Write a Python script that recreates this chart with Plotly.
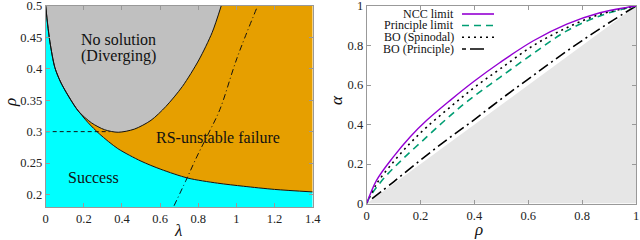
import plotly.graph_objects as go

# ---------------- Left panel data ----------------
lambda_min, lambda_max = 0.0, 1.4
rho_min, rho_max = 0.18, 0.5

success_lambda = [0, 0.01, 0.022, 0.048, 0.078, 0.109, 0.161, 0.22, 0.283, 0.378, 0.5, 0.604, 0.746, 0.9, 1.038, 1.2, 1.4]
success_rho = [0.5, 0.47, 0.443, 0.402, 0.379, 0.362, 0.337, 0.315, 0.296, 0.273, 0.253, 0.24, 0.226, 0.218, 0.213, 0.208, 0.204]

nosol_lambda = [0, 0.022, 0.048, 0.078, 0.118, 0.17, 0.24, 0.309, 0.38, 0.465, 0.552, 0.63, 0.717, 0.803, 0.873, 0.92]
nosol_rho = [0.5, 0.443, 0.402, 0.379, 0.357, 0.333, 0.314, 0.303, 0.299, 0.304, 0.318, 0.34, 0.372, 0.414, 0.458, 0.5]

dashdot_lambda = [0.673, 0.735, 0.794, 0.855, 0.913, 1.003, 1.111]
dashdot_rho = [0.182, 0.222, 0.261, 0.298, 0.335, 0.417, 0.5]

hline_lambda = [0, 0.335]
hline_rho = [0.3, 0.3]

left_xticks = [0, 0.2, 0.4, 0.6, 0.8, 1.0, 1.2, 1.4]
left_xticktext = ["0", "0.2", "0.4", "0.6", "0.8", "1", "1.2", "1.4"]
left_yticks = [0.2, 0.25, 0.3, 0.35, 0.4, 0.45, 0.5]
left_yticktext = ["0.2", "0.25", "0.3", "0.35", "0.4", "0.45", "0.5"]

# ---------------- Right panel data ----------------
ncc_rho = [0, 0.037, 0.099, 0.161, 0.223, 0.309, 0.4, 0.495, 0.619, 0.743, 0.866, 0.966, 1]
ncc_alpha = [0, 0.118, 0.236, 0.337, 0.421, 0.521, 0.62, 0.714, 0.824, 0.908, 0.966, 0.993, 1]

prin_rho = [0, 0.012, 0.062, 0.136, 0.223, 0.297, 0.377, 0.495, 0.619, 0.743, 0.866, 0.966, 1]
prin_alpha = [0, 0.034, 0.125, 0.228, 0.337, 0.429, 0.521, 0.639, 0.76, 0.874, 0.95, 0.99, 1]

bosp_rho = [0, 0.037, 0.099, 0.161, 0.223, 0.309, 0.4, 0.495, 0.619, 0.743, 0.866, 0.966, 1]
bosp_alpha = [0, 0.1, 0.21, 0.305, 0.387, 0.487, 0.588, 0.681, 0.8, 0.89, 0.958, 0.99, 1]

bopr_rho = [0.02, 0.1, 0.2, 0.3, 0.4, 0.5, 0.6, 0.7, 0.8, 0.9, 1]
bopr_alpha = [0.025, 0.11, 0.22, 0.325, 0.425, 0.53, 0.63, 0.73, 0.825, 0.915, 1]

diag_rho = [0, 1]
diag_alpha = [0, 1]

right_ticks = [0, 0.2, 0.4, 0.6, 0.8, 1]
right_ticktext = ["0", "0.2", "0.4", "0.6", "0.8", "1"]

legend_names = ["NCC limit", "Principle limit", "BO (Spinodal)", "BO (Principle)"]

# ---------------- Styles ----------------
ORANGE = "#E69F00"
CYAN = "#00FFFF"
GRAY = "#C0C0C0"
LIGHTGRAY = "#E6E6E6"
PURPLE = "#9400D3"
GREEN = "#009E73"
SERIF = "Liberation Serif"

fig = go.Figure()

# Left panel: baseline, success region (cyan), failure region (orange)
fig.add_trace(go.Scatter(x=[lambda_min, lambda_max], y=[rho_min, rho_min], mode="lines",
                         line=dict(width=0), hoverinfo="skip", showlegend=False, xaxis="x", yaxis="y"))
fig.add_trace(go.Scatter(x=success_lambda, y=success_rho, mode="lines", fill="tonexty", fillcolor=CYAN,
                         line=dict(width=0, shape="spline", smoothing=0.8), showlegend=False, xaxis="x", yaxis="y"))
fig.add_trace(go.Scatter(x=[lambda_min, lambda_max], y=[rho_max, rho_max], mode="lines", fill="tonexty",
                         fillcolor=ORANGE, line=dict(width=0), showlegend=False, xaxis="x", yaxis="y"))
# No-solution region (gray)
fig.add_trace(go.Scatter(x=nosol_lambda, y=nosol_rho, mode="lines", fill="toself", fillcolor=GRAY,
                         line=dict(width=0, shape="spline", smoothing=0.8), showlegend=False, xaxis="x", yaxis="y"))
# Boundary lines
fig.add_trace(go.Scatter(x=success_lambda, y=success_rho, mode="lines",
                         line=dict(color="#111", width=1, shape="spline", smoothing=0.8),
                         showlegend=False, xaxis="x", yaxis="y"))
fig.add_trace(go.Scatter(x=nosol_lambda, y=nosol_rho, mode="lines",
                         line=dict(color="#111", width=1, shape="spline", smoothing=0.8),
                         showlegend=False, xaxis="x", yaxis="y"))
fig.add_trace(go.Scatter(x=hline_lambda, y=hline_rho, mode="lines",
                         line=dict(color="#111", width=1, dash="4px,3px"),
                         showlegend=False, xaxis="x", yaxis="y"))
fig.add_trace(go.Scatter(x=dashdot_lambda, y=dashdot_rho, mode="lines",
                         line=dict(color="#111", width=1, dash="6px,3px,1px,3px", shape="spline"),
                         showlegend=False, xaxis="x", yaxis="y"))

# Right panel
fig.add_trace(go.Scatter(x=diag_rho, y=diag_alpha, mode="lines", fill="tozeroy", fillcolor=LIGHTGRAY,
                         line=dict(width=0), showlegend=False, xaxis="x2", yaxis="y2"))
fig.add_trace(go.Scatter(x=bopr_rho, y=bopr_alpha, mode="lines", name=legend_names[3],
                         line=dict(color="#000", width=1.6, dash="11px,4px,2px,4px", shape="spline"),
                         showlegend=False, xaxis="x2", yaxis="y2"))
fig.add_trace(go.Scatter(x=prin_rho, y=prin_alpha, mode="lines", name=legend_names[1],
                         line=dict(color=GREEN, width=1.6, dash="7px,5px", shape="spline"),
                         showlegend=False, xaxis="x2", yaxis="y2"))
fig.add_trace(go.Scatter(x=bosp_rho, y=bosp_alpha, mode="lines", name=legend_names[2],
                         line=dict(color="#000", width=1.6, dash="2px,4px", shape="spline"),
                         showlegend=False, xaxis="x2", yaxis="y2"))
fig.add_trace(go.Scatter(x=ncc_rho, y=ncc_alpha, mode="lines", name=legend_names[0],
                         line=dict(color=PURPLE, width=1.4, shape="spline"),
                         showlegend=False, xaxis="x2", yaxis="y2"))

W, H = 640, 240
L1, R1 = 45.7 / W, 312.7 / W
L2, R2 = 366.7 / W, 636 / W
T = 1 - 6 / H
B1 = 1 - 207 / H
B2 = 1 - 203.5 / H

axis_common = dict(showgrid=False, zeroline=False, showline=True, linecolor="#999", linewidth=1,
                   mirror="ticks", ticks="inside", ticklen=4, tickcolor="#999",
                   ticklabeloverflow="allow", automargin=False,
                   tickfont=dict(family=SERIF, size=12.5, color="#222"))

fig.update_layout(
    width=W, height=H, margin=dict(l=0, r=0, t=0, b=0, autoexpand=False),
    paper_bgcolor="white", plot_bgcolor="white", showlegend=False,
    xaxis=dict(domain=[L1, R1], range=[lambda_min, lambda_max], tickvals=left_xticks,
               ticktext=left_xticktext, anchor="y", **axis_common),
    yaxis=dict(domain=[B1, T], range=[rho_min, rho_max], tickvals=left_yticks,
               ticktext=left_yticktext, anchor="x", **axis_common),
    xaxis2=dict(domain=[L2, R2], range=[0, 1], tickvals=right_ticks, ticktext=right_ticktext,
                anchor="y2", **axis_common),
    yaxis2=dict(domain=[B2, T], range=[0, 1], tickvals=right_ticks, ticktext=right_ticktext,
                anchor="x2", **axis_common),
)

ann = []
tf = dict(family=SERIF, size=16, color="#111")
ann.append(dict(x=0.38, y=0.446, xref="x", yref="y", text="No solution", showarrow=False, font=tf))
ann.append(dict(x=0.38, y=0.421, xref="x", yref="y", text="(Diverging)", showarrow=False, font=tf))
ann.append(dict(x=0.905, y=0.29, xref="x", yref="y", text="RS-unstable failure", showarrow=False, font=tf))
ann.append(dict(x=0.25, y=0.227, xref="x", yref="y", text="Success", showarrow=False, font=tf))

# axis titles
gf = dict(family=SERIF, size=17, color="#111")
for (px, py, txt, ang) in [(178, 230, "<i>λ</i>", 0), (10, 103, "<i>ρ</i>", -90),
                           (478, 229, "<i>ρ</i>", 0), (336, 100, "<i>α</i>", -90)]:
    ann.append(dict(x=px / W, y=1 - py / H, xref="paper", yref="paper", text=txt, textangle=ang,
                    xanchor="center", yanchor="middle", showarrow=False, font=gf))

# legend (text right, sample line on right side)
leg_rows_y = [14, 25.5, 37.3, 49]
leg_styles = [dict(color=PURPLE, width=1.6, dash="solid"),
              dict(color=GREEN, width=1.6, dash="7px,5px"),
              dict(color="#000", width=1.6, dash="2px,4px"),
              dict(color="#000", width=1.6, dash="4px,4px,14px,40px")]
lf = dict(family=SERIF, size=12, color="#111")
shapes = []
for name, yy, st in zip(legend_names, leg_rows_y, leg_styles):
    ann.append(dict(x=455.5 / W, y=1 - yy / H, xref="paper", yref="paper", text=name, showarrow=False,
                    xanchor="right", yanchor="middle", font=lf))
    shapes.append(dict(type="line", xref="paper", yref="paper", x0=462 / W, x1=494 / W,
                       y0=1 - yy / H, y1=1 - yy / H, line=st))

fig.update_layout(annotations=ann, shapes=shapes)
fig.write_html("out.html", config={"displayModeBar": False},
               post_script="document.body.style.margin='0';document.body.style.padding='0';")
